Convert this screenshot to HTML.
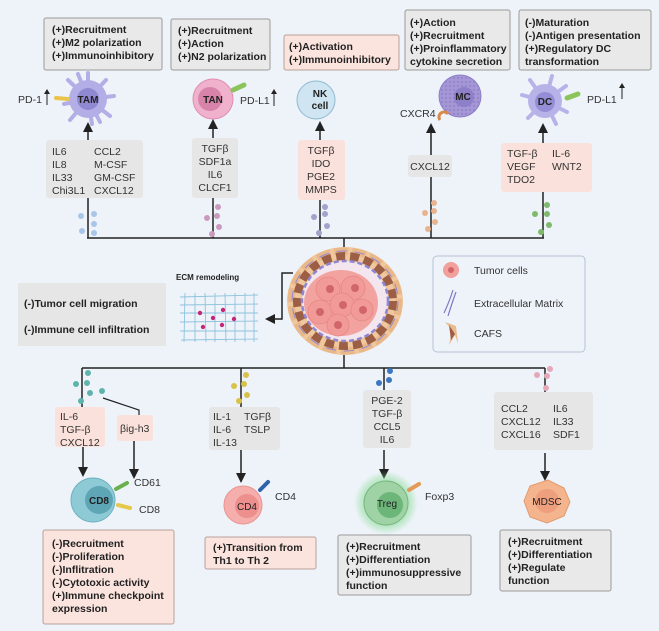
<!DOCTYPE html>
<html><head><meta charset="utf-8"><style>
html,body{margin:0;padding:0;background:#eef3fa;}
svg{display:block;font-family:"Liberation Sans",sans-serif;}
.b{font-weight:bold;font-size:10.5px;fill:#222;}
.n{font-size:10.5px;fill:#333;}
.gb{fill:#e9e9e9;stroke:#9a9a9a;stroke-width:1;}
.pb{fill:#fbe4de;stroke:#b9a09a;stroke-width:1;}
.gc{fill:#e6e6e6;}
.pc{fill:#fbe1db;}
.ln{stroke:#222;stroke-width:1.5;fill:none;}
</style></head><body>
<svg width="659" height="631" viewBox="0 0 659 631" xmlns="http://www.w3.org/2000/svg">
<defs>
<marker id="ah" markerWidth="10" markerHeight="10" refX="5" refY="5" orient="auto" markerUnits="userSpaceOnUse"><path d="M0,0 L10,5 L0,10 z" fill="#222"/></marker>
<radialGradient id="glow"><stop offset="0.6" stop-color="#7fd98a" stop-opacity="0.7"/><stop offset="1" stop-color="#7fd98a" stop-opacity="0"/></radialGradient>
<pattern id="dots" width="4" height="4" patternUnits="userSpaceOnUse"><rect width="4" height="4" fill="#a597d6"/><circle cx="2" cy="2" r="0.7" fill="#7d6fbd"/></pattern>
</defs>
<rect width="659" height="631" fill="#eef3fa"/>

<!-- top boxes -->
<rect class="gb" x="44" y="18" width="118" height="52" rx="2"/>
<text class="b" x="52" y="33">(+)Recruitment</text><text class="b" x="52" y="46">(+)M2 polarization</text><text class="b" x="52" y="59">(+)Immunoinhibitory</text>
<rect class="gb" x="171" y="19" width="99" height="51" rx="2"/>
<text class="b" x="178" y="34">(+)Recruitment</text><text class="b" x="178" y="47">(+)Action</text><text class="b" x="178" y="60">(+)N2 polarization</text>
<rect class="pb" x="284" y="35" width="115" height="35" rx="2"/>
<text class="b" x="289" y="50">(+)Activation</text><text class="b" x="289" y="63">(+)Immunoinhibitory</text>
<rect class="gb" x="405" y="10" width="105" height="60" rx="2"/>
<text class="b" x="410" y="26">(+)Action</text><text class="b" x="410" y="39">(+)Recruitment</text><text class="b" x="410" y="52">(+)Proinflammatory</text><text class="b" x="410" y="65">cytokine secretion</text>
<rect class="gb" x="519" y="10" width="132" height="60" rx="2"/>
<text class="b" x="525" y="26">(-)Maturation</text><text class="b" x="525" y="39">(-)Antigen presentation</text><text class="b" x="525" y="52">(+)Regulatory DC</text><text class="b" x="525" y="65">transformation</text>

<!-- TAM -->
<g stroke="#b3aee6" stroke-width="4" stroke-linecap="round">
<line x1="88" y1="99" x2="88" y2="73"/><line x1="88" y1="99" x2="106" y2="80"/><line x1="88" y1="99" x2="114" y2="96"/><line x1="88" y1="99" x2="110" y2="116"/><line x1="88" y1="99" x2="92" y2="124"/><line x1="88" y1="99" x2="70" y2="120"/><line x1="88" y1="99" x2="64" y2="104"/><line x1="88" y1="99" x2="68" y2="80"/><line x1="88" y1="99" x2="78" y2="74"/><line x1="88" y1="99" x2="100" y2="122"/>
</g>
<circle cx="88" cy="99" r="19" fill="#b3aee6"/><circle cx="88" cy="99" r="11" fill="#8f89d1"/>
<text x="88" y="103" text-anchor="middle" font-weight="bold" font-size="10" fill="#222">TAM</text>
<line x1="56" y1="98" x2="68" y2="99" stroke="#e9c34a" stroke-width="4" stroke-linecap="round"/>
<text class="n" x="18" y="103">PD-1</text><line x1="47" y1="105" x2="47" y2="92" stroke="#222"/><path d="M44,94 L47,89 L50,94z" fill="#222"/>
<!-- TAN -->
<circle cx="213" cy="99" r="20" fill="#f0b1cd" stroke="#e08db2"/><circle cx="210" cy="99" r="12" fill="#d883a9"/>
<text x="213" y="103" text-anchor="middle" font-weight="bold" font-size="10" fill="#222">TAN</text>
<line x1="233" y1="90" x2="244" y2="85" stroke="#8ac45a" stroke-width="5" stroke-linecap="round"/>
<text class="n" x="240" y="104">PD-L1</text><line x1="274" y1="106" x2="274" y2="92" stroke="#222"/><path d="M271,94 L274,89 L277,94z" fill="#222"/>
<!-- NK -->
<circle cx="316" cy="100" r="19" fill="#cfe6f2" stroke="#8fb8cf"/>
<text x="320" y="97" text-anchor="middle" font-weight="bold" font-size="10" fill="#222">NK</text><text x="320" y="109" text-anchor="middle" font-weight="bold" font-size="10" fill="#222">cell</text>
<!-- MC -->
<circle cx="460" cy="96" r="21" fill="url(#dots)" stroke="#8d7fc8"/><circle cx="464" cy="97" r="10" fill="#8d7fc8"/>
<text x="463" y="100" text-anchor="middle" font-weight="bold" font-size="10" fill="#222">MC</text>
<path d="M440,120 a5,5 0 1 1 8,-6" stroke="#d98a4a" stroke-width="3" fill="none"/>
<text class="n" x="400" y="117">CXCR4</text>
<!-- DC -->
<g stroke="#b7b3e9" stroke-width="4" stroke-linecap="round">
<line x1="545" y1="101" x2="530" y2="80"/><line x1="545" y1="101" x2="552" y2="76"/><line x1="545" y1="101" x2="522" y2="95"/><line x1="545" y1="101" x2="528" y2="118"/><line x1="545" y1="101" x2="556" y2="124"/><line x1="545" y1="101" x2="567" y2="112"/><line x1="545" y1="101" x2="566" y2="86"/>
</g>
<circle cx="545" cy="101" r="17" fill="#b7b3e9"/><circle cx="545" cy="102" r="10" fill="#948ed6"/>
<text x="545" y="105" text-anchor="middle" font-weight="bold" font-size="10" fill="#222">DC</text>
<line x1="567" y1="98" x2="578" y2="94" stroke="#8ac45a" stroke-width="5" stroke-linecap="round"/>
<text class="n" x="587" y="103">PD-L1</text><line x1="622" y1="99" x2="622" y2="86" stroke="#222"/><path d="M619,88 L622,83 L625,88z" fill="#222"/>

<!-- up arrows -->
<g class="ln" marker-end="url(#ah)">
<line x1="88" y1="140" x2="88" y2="127"/><line x1="213" y1="138" x2="213" y2="124"/><line x1="320" y1="140" x2="320" y2="126"/><line x1="431" y1="155" x2="431" y2="128"/><line x1="543" y1="143" x2="543" y2="128"/>
</g>

<!-- cytokine boxes top -->
<rect class="gc" x="46" y="140" width="97" height="58" rx="3"/>
<text class="n" x="52" y="155">IL6</text><text class="n" x="52" y="168">IL8</text><text class="n" x="52" y="181">IL33</text><text class="n" x="52" y="194">Chi3L1</text>
<text class="n" x="94" y="155">CCL2</text><text class="n" x="94" y="168">M-CSF</text><text class="n" x="94" y="181">GM-CSF</text><text class="n" x="94" y="194">CXCL12</text>
<rect class="gc" x="192" y="138" width="46" height="60" rx="3"/>
<g text-anchor="middle"><text class="n" x="215" y="152">TGFβ</text><text class="n" x="215" y="165">SDF1a</text><text class="n" x="215" y="178">IL6</text><text class="n" x="215" y="191">CLCF1</text></g>
<rect class="pc" x="298" y="140" width="47" height="60" rx="3"/>
<g text-anchor="middle"><text class="n" x="321" y="154">TGFβ</text><text class="n" x="321" y="167">IDO</text><text class="n" x="321" y="180">PGE2</text><text class="n" x="321" y="193">MMPS</text></g>
<rect class="gc" x="408" y="155" width="44" height="22" rx="3"/>
<text class="n" x="430" y="170" text-anchor="middle">CXCL12</text>
<rect class="pc" x="501" y="143" width="91" height="49" rx="3"/>
<text class="n" x="507" y="157">TGF-β</text><text class="n" x="507" y="170">VEGF</text><text class="n" x="507" y="183">TDO2</text>
<text class="n" x="552" y="157">IL-6</text><text class="n" x="552" y="170">WNT2</text>

<!-- top tree -->
<g class="ln"><line x1="88" y1="198" x2="88" y2="238"/><line x1="213" y1="198" x2="213" y2="238"/><line x1="320" y1="200" x2="320" y2="238"/><line x1="431" y1="177" x2="431" y2="238"/><line x1="543" y1="192" x2="543" y2="238"/><line x1="87" y1="238" x2="544" y2="238"/><line x1="344" y1="238" x2="344" y2="256"/></g>
<g fill="#a9c6e6"><circle cx="81" cy="216" r="3"/><circle cx="94" cy="214" r="3"/><circle cx="94" cy="224" r="3"/><circle cx="82" cy="231" r="3"/><circle cx="94" cy="233" r="3"/></g>
<g fill="#c99bbe"><circle cx="218" cy="207" r="3"/><circle cx="217" cy="216" r="3"/><circle cx="207" cy="218" r="3"/><circle cx="219" cy="227" r="3"/><circle cx="212" cy="234" r="3"/></g>
<g fill="#a2a2cc"><circle cx="325" cy="207" r="3"/><circle cx="314" cy="217" r="3"/><circle cx="325" cy="214" r="3"/><circle cx="327" cy="226" r="3"/><circle cx="319" cy="233" r="3"/></g>
<g fill="#e8b38e"><circle cx="434" cy="203" r="3"/><circle cx="425" cy="213" r="3"/><circle cx="434" cy="211" r="3"/><circle cx="435" cy="222" r="3"/><circle cx="428" cy="229" r="3"/></g>
<g fill="#7fb96c"><circle cx="547" cy="205" r="3"/><circle cx="547" cy="214" r="3"/><circle cx="535" cy="214" r="3"/><circle cx="549" cy="225" r="3"/><circle cx="541" cy="232" r="3"/></g>

<!-- tumor -->
<ellipse cx="345" cy="301" rx="58" ry="54" fill="#f0c89e"/>
<ellipse cx="345" cy="301" rx="54" ry="50" fill="none" stroke="#e9b88a" stroke-width="7" stroke-dasharray="14 4"/>
<ellipse cx="345" cy="301" rx="48" ry="45" fill="none" stroke="#9c5f45" stroke-width="8" stroke-dasharray="9 5"/>
<ellipse cx="345" cy="301" rx="53" ry="50" fill="none" stroke="#8f87d3" stroke-width="1" stroke-dasharray="10 8"/>
<ellipse cx="345" cy="301" rx="43" ry="40" fill="#f3e6ee" stroke="#8f87d3" stroke-width="2.5" stroke-dasharray="5 3"/>
<ellipse cx="341" cy="303" rx="37" ry="33" fill="#f2a3a0"/>
<g fill="#f29a98" stroke="#e58784" stroke-width="0.8">
<circle cx="328" cy="289" r="12"/><circle cx="353" cy="288" r="12"/><circle cx="320" cy="312" r="12"/><circle cx="342" cy="305" r="12"/><circle cx="362" cy="310" r="11"/><circle cx="338" cy="325" r="11"/>
</g>
<g fill="#d0666a"><circle cx="330" cy="289" r="4"/><circle cx="355" cy="288" r="4"/><circle cx="320" cy="312" r="4"/><circle cx="343" cy="305" r="4"/><circle cx="363" cy="310" r="4"/><circle cx="338" cy="325" r="4"/></g>
<line class="ln" x1="344" y1="355" x2="344" y2="368"/>

<!-- ECM -->
<polyline class="ln" points="293,273 282,273 282,319 270,319" marker-end="url(#ah)"/>
<text x="176" y="280" font-weight="bold" font-size="8" fill="#222">ECM remodeling</text>
<g stroke="#8ec3dd" stroke-width="0.9">
<line x1="180" y1="297" x2="258" y2="295"/><line x1="180" y1="305" x2="258" y2="304"/><line x1="180" y1="313" x2="258" y2="313"/><line x1="180" y1="322" x2="258" y2="321"/><line x1="180" y1="331" x2="258" y2="331"/><line x1="181" y1="340" x2="258" y2="339"/>
<line x1="185" y1="293" x2="184" y2="342"/><line x1="195" y1="293" x2="195" y2="342"/><line x1="205" y1="293" x2="206" y2="342"/><line x1="215" y1="293" x2="215" y2="342"/><line x1="225" y1="293" x2="226" y2="342"/><line x1="235" y1="293" x2="235" y2="342"/><line x1="245" y1="293" x2="245" y2="342"/><line x1="254" y1="293" x2="254" y2="342"/>
</g>
<g fill="#c2287a"><circle cx="200" cy="313" r="2.2"/><circle cx="213" cy="318" r="2.2"/><circle cx="223" cy="310" r="2.2"/><circle cx="234" cy="319" r="2.2"/><circle cx="203" cy="327" r="2.2"/><circle cx="222" cy="325" r="2.2"/></g>
<rect x="18" y="283" width="148" height="63" fill="#e6e6e6"/>
<text class="b" x="24" y="307">(-)Tumor cell migration</text>
<text class="b" x="24" y="333">(-)Immune cell infiltration</text>

<!-- legend -->
<rect x="433" y="256" width="152" height="96" rx="4" fill="#eef3fa" stroke="#b6c2d4"/>
<circle cx="451" cy="270" r="8" fill="#f2a09c"/><circle cx="451" cy="270" r="3" fill="#d0666a"/>
<text class="n" x="474" y="274">Tumor cells</text>
<path d="M444,313 Q450,300 453,290 M448,316 Q452,303 456,292" stroke="#7d79c4" stroke-width="1.2" fill="none"/>
<text class="n" x="474" y="307">Extracellular Matrix</text>
<path d="M445,322 L452,330 L449,345 L455,335 L458,344 L456,326z" fill="#e9bb8d"/><path d="M449,325 L455,334 L451,340z" fill="#9e5e43"/>
<text class="n" x="474" y="337">CAFS</text>

<!-- bottom tree -->
<g class="ln"><line x1="82" y1="368" x2="545" y2="368"/><line x1="82" y1="368" x2="82" y2="407"/><line x1="241" y1="368" x2="241" y2="407"/><line x1="384" y1="368" x2="384" y2="390"/><line x1="545" y1="368" x2="545" y2="392"/>
<polyline points="103,398 139,410 139,415" stroke-width="1.2"/></g>
<g fill="#5fb3ad"><circle cx="88" cy="373" r="3"/><circle cx="87" cy="383" r="3"/><circle cx="76" cy="384" r="3"/><circle cx="90" cy="393" r="3"/><circle cx="102" cy="391" r="3"/><circle cx="81" cy="401" r="3"/></g>
<g fill="#d8c24a"><circle cx="246" cy="375" r="3"/><circle cx="244" cy="384" r="3"/><circle cx="234" cy="386" r="3"/><circle cx="247" cy="395" r="3"/><circle cx="239" cy="401" r="3"/></g>
<g fill="#3c78c0"><circle cx="390" cy="371" r="3"/><circle cx="389" cy="380" r="3"/><circle cx="379" cy="383" r="3"/></g>
<g fill="#e4a8b8"><circle cx="550" cy="369" r="3"/><circle cx="547" cy="376" r="3"/><circle cx="537" cy="375" r="3"/><circle cx="546" cy="388" r="3"/></g>

<!-- bottom cytokine boxes -->
<rect class="pc" x="55" y="407" width="50" height="40" rx="3"/>
<text class="n" x="60" y="420">IL-6</text><text class="n" x="60" y="433">TGF-β</text><text class="n" x="60" y="446">CXCL12</text>
<rect class="pc" x="117" y="415" width="36" height="26" rx="3"/>
<text class="n" x="120" y="432">βig-h3</text>
<rect class="gc" x="209" y="407" width="71" height="43" rx="3"/>
<text class="n" x="213" y="420">IL-1</text><text class="n" x="213" y="433">IL-6</text><text class="n" x="213" y="446">IL-13</text><text class="n" x="244" y="420">TGFβ</text><text class="n" x="244" y="433">TSLP</text>
<rect class="gc" x="363" y="390" width="48" height="58" rx="3"/>
<g text-anchor="middle"><text class="n" x="387" y="404">PGE-2</text><text class="n" x="387" y="417">TGF-β</text><text class="n" x="387" y="430">CCL5</text><text class="n" x="387" y="443">IL6</text></g>
<rect class="gc" x="494" y="392" width="99" height="58" rx="3"/>
<text class="n" x="501" y="412">CCL2</text><text class="n" x="501" y="425">CXCL12</text><text class="n" x="501" y="438">CXCL16</text>
<text class="n" x="553" y="412">IL6</text><text class="n" x="553" y="425">IL33</text><text class="n" x="553" y="438">SDF1</text>

<g class="ln" marker-end="url(#ah)">
<line x1="83" y1="447" x2="83" y2="472"/><line x1="134" y1="441" x2="134" y2="474"/><line x1="241" y1="450" x2="241" y2="478"/><line x1="384" y1="450" x2="384" y2="474"/><line x1="545" y1="453" x2="545" y2="476"/>
</g>

<!-- CD8 -->
<circle cx="93" cy="500" r="22" fill="#8ecad6" stroke="#6fb2c0"/><circle cx="99" cy="500" r="14" fill="#5ea5b6"/>
<text x="99" y="504" text-anchor="middle" font-weight="bold" font-size="10" fill="#222">CD8</text>
<line x1="116" y1="489" x2="127" y2="483" stroke="#6ab04c" stroke-width="4" stroke-linecap="round"/>
<line x1="118" y1="505" x2="130" y2="508" stroke="#e6c84a" stroke-width="4" stroke-linecap="round"/>
<text class="n" x="134" y="486">CD61</text><text class="n" x="139" y="513">CD8</text>
<rect class="pb" x="43" y="530" width="131" height="94" rx="2"/>
<text class="b" x="52" y="547">(-)Recruitment</text><text class="b" x="52" y="560">(-)Proliferation</text><text class="b" x="52" y="573">(-)Inflitration</text><text class="b" x="52" y="586">(-)Cytotoxic activity</text><text class="b" x="52" y="599">(+)Immune checkpoint</text><text class="b" x="52" y="612">expression</text>
<!-- CD4 -->
<circle cx="243" cy="505" r="19" fill="#f5aeab" stroke="#e89490"/><circle cx="247" cy="506" r="12" fill="#ec8f8d"/>
<text x="247" y="510" text-anchor="middle" font-size="10" fill="#222">CD4</text>
<line x1="260" y1="490" x2="268" y2="482" stroke="#2d63a8" stroke-width="4" stroke-linecap="round"/>
<text class="n" x="275" y="500">CD4</text>
<rect class="pb" x="205" y="537" width="111" height="32" rx="2"/>
<text class="b" x="213" y="551">(+)Transition from</text><text class="b" x="213" y="564">Th1 to Th 2</text>
<!-- Treg -->
<circle cx="386" cy="503" r="32" fill="url(#glow)"/>
<circle cx="386" cy="503" r="22" fill="#9fd3a5" stroke="#78b57f"/><circle cx="390" cy="505" r="13" fill="#6db67a"/>
<text x="387" y="507" text-anchor="middle" font-size="10" fill="#222">Treg</text>
<line x1="409" y1="490" x2="419" y2="484" stroke="#e29a55" stroke-width="4" stroke-linecap="round"/>
<text class="n" x="425" y="500">Foxp3</text>
<rect class="gb" x="338" y="535" width="133" height="60" rx="2"/>
<text class="b" x="346" y="550">(+)Recruitment</text><text class="b" x="346" y="563">(+)Differentiation</text><text class="b" x="346" y="576">(+)immunosuppressive</text><text class="b" x="346" y="589">function</text>
<!-- MDSC -->
<path d="M530,486 L548,480 L564,488 L570,502 L564,516 L547,523 L530,517 L524,501z" fill="#f4b48d" stroke="#e29a70"/>
<circle cx="547" cy="501" r="12" fill="#ee9f7e"/>
<text x="547" y="505" text-anchor="middle" font-size="10" fill="#222">MDSC</text>
<rect class="gb" x="500" y="530" width="111" height="61" rx="2"/>
<text class="b" x="508" y="545">(+)Recruitment</text><text class="b" x="508" y="558">(+)Differentiation</text><text class="b" x="508" y="571">(+)Regulate</text><text class="b" x="508" y="584">function</text>
</svg>
</body></html>
